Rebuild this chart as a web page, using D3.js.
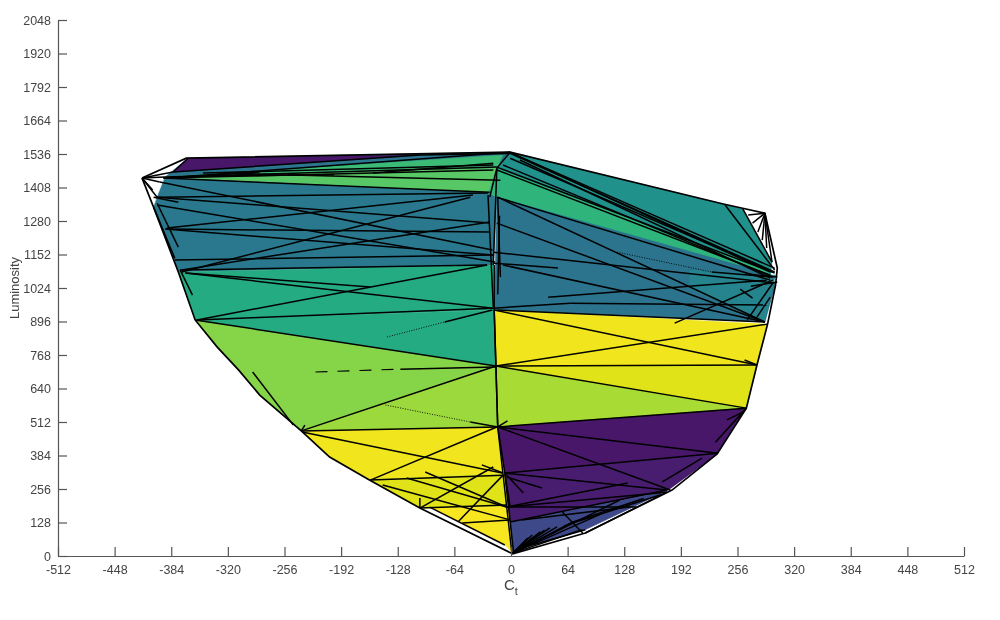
<!DOCTYPE html>
<html>
<head>
<meta charset="utf-8">
<script src="https://cdn.jsdelivr.net/npm/d3@7"></script>
<style>
  body { margin: 0; background: #fff; }
  svg { display: block; filter: blur(0.4px); }
  text { font-family: "Liberation Sans", sans-serif; fill: #444; }
</style>
</head>
<body>
<div id="chart"></div>
<script>
const xTicks = d3.range(-512, 513, 64);
const yTicks = d3.range(0, 2049, 128);

// hull of the mesh, [Ct, luminosity]
const outline = [
  [-417,1444],[-367,1520],[-1,1543],[240,1345],[287,1310],[301,1100],[299,1035],[290,886],
  [278,730],[266,565],[233,390],[182,252],[84,88],[2,8],[-103,183],[-160,290],[-205,378],[-237,478],
  [-284,615],[-308,711],[-332,798],[-357,902],[-376,1085],[-404,1333],[-417,1444]
];

// flat shaded faces and their colour value
const faces = [
  [[-391,1448],[-365,1520],[-1,1543],[-16,1482]],
  [[-382,1467],[-365,1520],[-103,1532]],
  [[-391,1448],[-26,1390],[-16,1371],[-20,1112],[-376,1085],[-404,1333],[-400,1371]],
  [[-391,1448],[-9,1532],[-16,1482]],
  [[-391,1448],[-16,1482],[-26,1390]],
  [[-16,1482],[-26,1390],[-16,1371]],
  [[-376,1085],[-20,1112],[-19,940],[-357,902]],
  [[-357,902],[-19,940],[-17,726]],
  [[-357,902],[-17,726],[-237,478],[-284,615],[-308,711],[-332,798]],
  [[-237,478],[-17,726],[-15,493]],
  [[-237,478],[-15,493],[-7,317],[-159,290],[-205,378]],
  [[-159,290],[-7,317],[-3,187],[-103,183]],
  [[-103,183],[-3,187],[2,11],[-7,42],[-92,187]],
  [[-1,1543],[240,1345],[262,1326],[295,1123],[293,1054],[-16,1371],[-16,1482]],
  [[-16,1482],[298,1085],[289,1081],[-16,1371]],
  [[-16,1371],[289,1081],[299,1035],[287,894],[-19,940]],
  [[202,1093],[299,1073],[287,894],[202,1024]],
  [[-19,940],[290,886],[278,730],[-17,726]],
  [[-17,726],[278,730],[266,565]],
  [[-17,726],[266,565],[-15,493]],
  [[-15,493],[266,565],[233,390],[176,248],[-1,130],[-7,317]],
  [[-7,317],[233,390],[176,248],[-1,130]],
  [[-1,130],[176,248],[84,100],[20,38],[2,11]]
];
const faceValues = [0.39,0.06,0.4,0.68,0.74,0.66,0.61,0.61,0.82,0.85,0.98,0.95,0.99,0.5,0.65,0.38,0.45,0.98,0.95,0.87,0.06,0.08,0.22];

// triangle edges: Ct1, lum1, Ct2, lum2
const solidEdges = [
  // left, blue band
  [-397,1429,-21,1169],[-400,1371,-24,1272],[-400,1341,-18,1123],[-389,1253,-43,1379],
  [-389,1249,-24,1238],[-391,1249,-20,1150],[-372,1093,-24,1276],[-380,1131,-20,1150],
  [-374,1093,-27,1112],[-400,1371,-26,1387],[-372,1085,-46,1371],
  // left, green band
  [-368,1081,-159,1028],[-368,1081,-20,947],[-355,902,-27,1112],[-355,902,-21,947],[-75,894,-21,940],
  // left, lower
  [-357,902,-17,726],[-237,478,-17,726],[-237,478,-15,493],[-125,714,-18,722],[-292,703,-246,500],[-46,512,-15,493],
  [-237,478,-233,500],[-15,493,-4,516],
  // left, yellow
  [-236,474,-10,317],[-159,290,-16,493],[-159,290,-9,309],[-118,298,-5,187],[-145,271,-1,138],
  [-97,321,-5,187],[-103,183,-20,340],[-103,183,-5,195],[-60,130,-9,309],[-33,348,-9,317],
  [-55,126,-1,138],[-103,183,-103,222],[-92,187,-7,42],
  // spine
  [-15,493,1,11],[-7,317,3,11],[-15,493,-1,187],[-19,940,-15,493],[-26,1379,-20,951],[-16,1482,-24,1371],
  [-16,1482,-20,1112],[-15,1371,-12,1066],[-19,1112,-19,940],[-1,1543,-16,1482],[-19,940,-17,726],[-17,726,-15,493],
  [-13,1300,-15,1000],
  // top left, green band
  [-391,1448,-16,1486],[-393,1444,-20,1475],[-391,1444,-1,1543],[-329,1463,-12,1436],[-348,1463,-20,1494],
  [-393,1444,-24,1390],[-156,1463,-20,1501],[-382,1467,-103,1532],[-382,1467,-365,1520],[-391,1444,-284,1467],
  [-360,1452,-200,1457],[-103,1532,-1,1538],
  // left tip
  [-417,1444,-391,1448],[-417,1444,-397,1429],[-417,1444,-405,1398],[-417,1444,-400,1371],[-417,1444,-382,1467],
  [-404,1371,-376,1352],[-400,1348,-376,1180],[-404,1333,-380,1138],[-374,1093,-360,997],
  // right, top
  [-2,1543,298,1100],[-1,1539,298,1085],[5,1532,293,1085],[242,1341,298,1093],[262,1326,295,1123],
  [287,1310,268,1303],[287,1310,273,1272],[287,1310,279,1238],[287,1310,284,1207],[287,1310,289,1177],[287,1310,295,1123],
  [-16,1486,298,1081],[-9,1494,296,1066],[-16,1371,293,1054],[-16,1475,293,1073],[10,1513,293,1062],[-1,1520,290,1095],
  // right, blue band
  [-15,1371,287,894],[-16,1272,287,894],[-20,1161,298,1043],[-20,1119,53,1100],[-9,1112,287,894],
  [-20,947,67,966],[67,966,289,959],[42,989,289,1054],[227,1085,296,1066],[185,890,296,1054],
  [267,902,296,1043],[278,913,293,989],[271,1031,301,1047],[265,1078,301,1066],[259,1020,273,985],
  // right, yellow
  [-16,940,287,894],[-19,940,278,730],[290,886,-17,726],[-17,726,278,730],[264,749,278,730],[-17,726,266,565],[-15,493,266,565],
  // right, purple
  [-15,493,234,393],[-15,493,180,252],[-7,317,234,393],[-7,317,176,252],[-5,187,132,279],[-5,187,176,244],
  [-5,187,142,187],[-1,130,176,252],[266,565,231,435],[244,520,262,550],[171,283,216,374],[-7,317,14,241],
  [-5,302,35,260],[12,138,134,187],[58,168,81,88],[84,88,176,244],[60,115,170,235],[70,130,150,220],
  // fan at the origin
  [2,11,19,69],[2,11,24,80],[2,11,33,92],[2,11,38,99],[2,11,44,107],[2,11,52,111],[2,11,70,130],[2,11,104,164],[2,11,123,214],
  [2,11,80,100],[20,38,84,100]
];
const dottedEdges = [
  [-140,837,-75,894],[-142,577,-46,512],[120,1161,227,1085]
];
const dashedEdges = [
  [-221,703,-125,714]
];

const width = 1000, height = 620;
const margin = {top: 20, right: 36, bottom: 64, left: 58};

const svg = d3.select("#chart").append("svg")
    .attr("width", width)
    .attr("height", height);

const x = d3.scaleLinear().domain([-512, 512]).range([margin.left, width - margin.right]);
const y = d3.scaleLinear().domain([0, 2048]).range([height - margin.bottom, margin.top]);

const line = d3.line().x(d => x(d[0])).y(d => y(d[1]));

svg.append("g").selectAll("path")
    .data(faces)
    .join("path")
    .attr("d", d => line(d) + "Z")
    .attr("fill", (d, i) => d3.interpolateViridis(faceValues[i]))
    .attr("stroke", (d, i) => d3.interpolateViridis(faceValues[i]))
    .attr("stroke-width", 0.4);

function drawEdges(edges, dash, w) {
  svg.append("g").selectAll("line")
      .data(edges)
      .join("line")
      .attr("x1", d => x(d[0]))
      .attr("y1", d => y(d[1]))
      .attr("x2", d => x(d[2]))
      .attr("y2", d => y(d[3]))
      .attr("stroke", "#000")
      .attr("stroke-width", w)
      .attr("stroke-dasharray", dash);
}
drawEdges(solidEdges, null, 1.5);
drawEdges(dottedEdges, "1 1.5", 0.9);
drawEdges(dashedEdges, "12 10", 1.1);

svg.append("path")
    .attr("d", line(outline))
    .attr("fill", "none")
    .attr("stroke", "#000")
    .attr("stroke-width", 1.7);

const xAxis = d3.axisBottom(x).tickValues(xTicks).tickSize(-9).tickSizeOuter(0).tickPadding(9).tickFormat(d => String(d));
const yAxis = d3.axisLeft(y).tickValues(yTicks).tickSize(-9).tickSizeOuter(0).tickPadding(7).tickFormat(d => String(d));

const gx = svg.append("g").attr("transform", `translate(0,${height - margin.bottom})`).call(xAxis);
const gy = svg.append("g").attr("transform", `translate(${margin.left},0)`).call(yAxis);

[gx, gy].forEach(g => {
  g.selectAll("path, line").attr("stroke", "#555").attr("stroke-width", 1.2);
  g.selectAll("text").attr("font-size", 12.5).attr("font-family", null).attr("fill", "#444");
});

const xLabel = svg.append("text")
    .attr("x", 504)
    .attr("y", 590)
    .attr("font-size", 15);
xLabel.append("tspan").text("C");
xLabel.append("tspan").attr("dy", 5).attr("font-size", 11).text("t");

svg.append("text")
    .attr("transform", "translate(19,288) rotate(-90)")
    .attr("text-anchor", "middle")
    .attr("font-size", 13)
    .text("Luminosity");
</script>
</body>
</html>
